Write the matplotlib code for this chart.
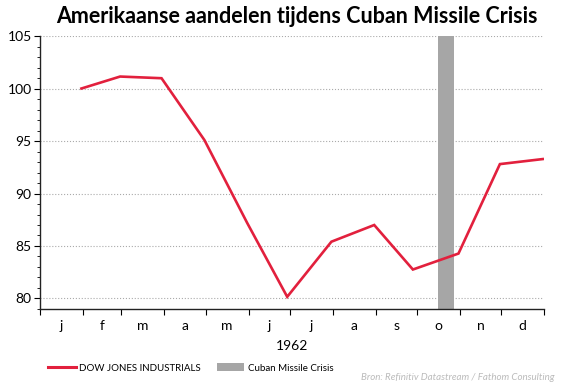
"""Dow Jones during the Cuban Missile Crisis, 1962 (rebased, 100 = end of January)

"""

import datetime as dt

import numpy as np
import matplotlib
matplotlib.use('Agg')
import matplotlib.pyplot as plt
from matplotlib.lines import Line2D
from matplotlib.patches import Patch

# data, month-end values
dates = ['1962-01-31', '1962-02-28', '1962-03-30', '1962-04-30', '1962-05-31',
         '1962-06-29', '1962-07-31', '1962-08-31', '1962-09-28', '1962-10-31',
         '1962-11-30', '1962-12-31']
dow = [100.0, 101.14, 100.98, 95.1, 87.2, 80.16, 85.41, 87.0, 82.76, 84.28,
       92.8, 93.28]
crisis = ('1962-10-16', '1962-10-28')
month_labels = ['j', 'f', 'm', 'a', 'm', 'j', 'j', 'a', 's', 'o', 'n', 'd']

red = '#E2203D'
grey = '#A6A6A6'

plt.rcParams['font.family'] = ['Lato', 'DejaVu Sans']

x = [dt.datetime.strptime(d, '%Y-%m-%d') for d in dates]
c0, c1 = [dt.datetime.strptime(d, '%Y-%m-%d') for d in crisis]

fig = plt.figure(figsize=(5.65, 3.86), dpi=100)
ax = fig.add_axes([0.0708, 0.1995, 0.8922, 0.7072])

ax.axvspan(c0, c1, color=grey, lw=0, zorder=1)
ax.plot(x, dow, color=red, lw=1.9, zorder=3, solid_joinstyle='miter')

# x axis: ticks on month boundaries, labels in month centres
bounds = [dt.datetime(1962, m, 1) for m in range(1, 13)] + [dt.datetime(1963, 1, 1)]
mids = [b0 + (b1 - b0) / 2 for b0, b1 in zip(bounds[:-1], bounds[1:])]
ax.set_xlim(bounds[0], bounds[-1])
ax.set_xticks(bounds)
ax.set_xticklabels([])
ax.set_xticks(mids, minor=True)
ax.set_xticklabels(month_labels, minor=True)
ax.tick_params(axis='x', which='major', direction='out', length=4, width=0.8)
ax.tick_params(axis='x', which='minor', length=0, pad=8, labelsize=10)
ax.set_xlabel('1962', fontsize=10, labelpad=6)

# y axis
ax.set_ylim(79, 105)
ax.set_yticks(np.arange(80, 106, 5))
ax.set_yticks(np.arange(79, 106, 1), minor=True)
ax.tick_params(axis='y', which='major', direction='out', length=4, width=0.8,
               labelsize=10, pad=2)
ax.tick_params(axis='y', which='minor', direction='out', length=2, width=0.6)
ax.grid(axis='y', which='major', color='#AAAAAA', ls=':', lw=0.8)
ax.set_axisbelow(True)

for s in ['top', 'right']:
    ax.spines[s].set_visible(False)
for s in ['left', 'bottom']:
    ax.spines[s].set_color('#222222')
    ax.spines[s].set_linewidth(1.0)

fig.text(0.526, 0.958, 'Amerikaanse aandelen tijdens Cuban Missile Crisis',
         ha='center', va='center', fontsize=15.5, fontweight='bold')

handles = [Line2D([0], [0], color=red, lw=2.2),
           Patch(facecolor=grey, edgecolor='none')]
leg = fig.legend(handles, ['DOW JONES INDUSTRIALS', 'Cuban Missile Crisis'],
                 loc='center left', bbox_to_anchor=(0.07, 0.047), ncol=2,
                 frameon=False, fontsize=7, handlelength=2.8, handleheight=0.9,
                 handletextpad=0.4, columnspacing=1.6)

fig.text(0.982, 0.023, 'Bron: Refinitiv Datastream / Fathom Consulting',
         ha='right', va='center', fontsize=7, style='italic', color='#BBBBBB')

plt.savefig('out.png', dpi=100)
